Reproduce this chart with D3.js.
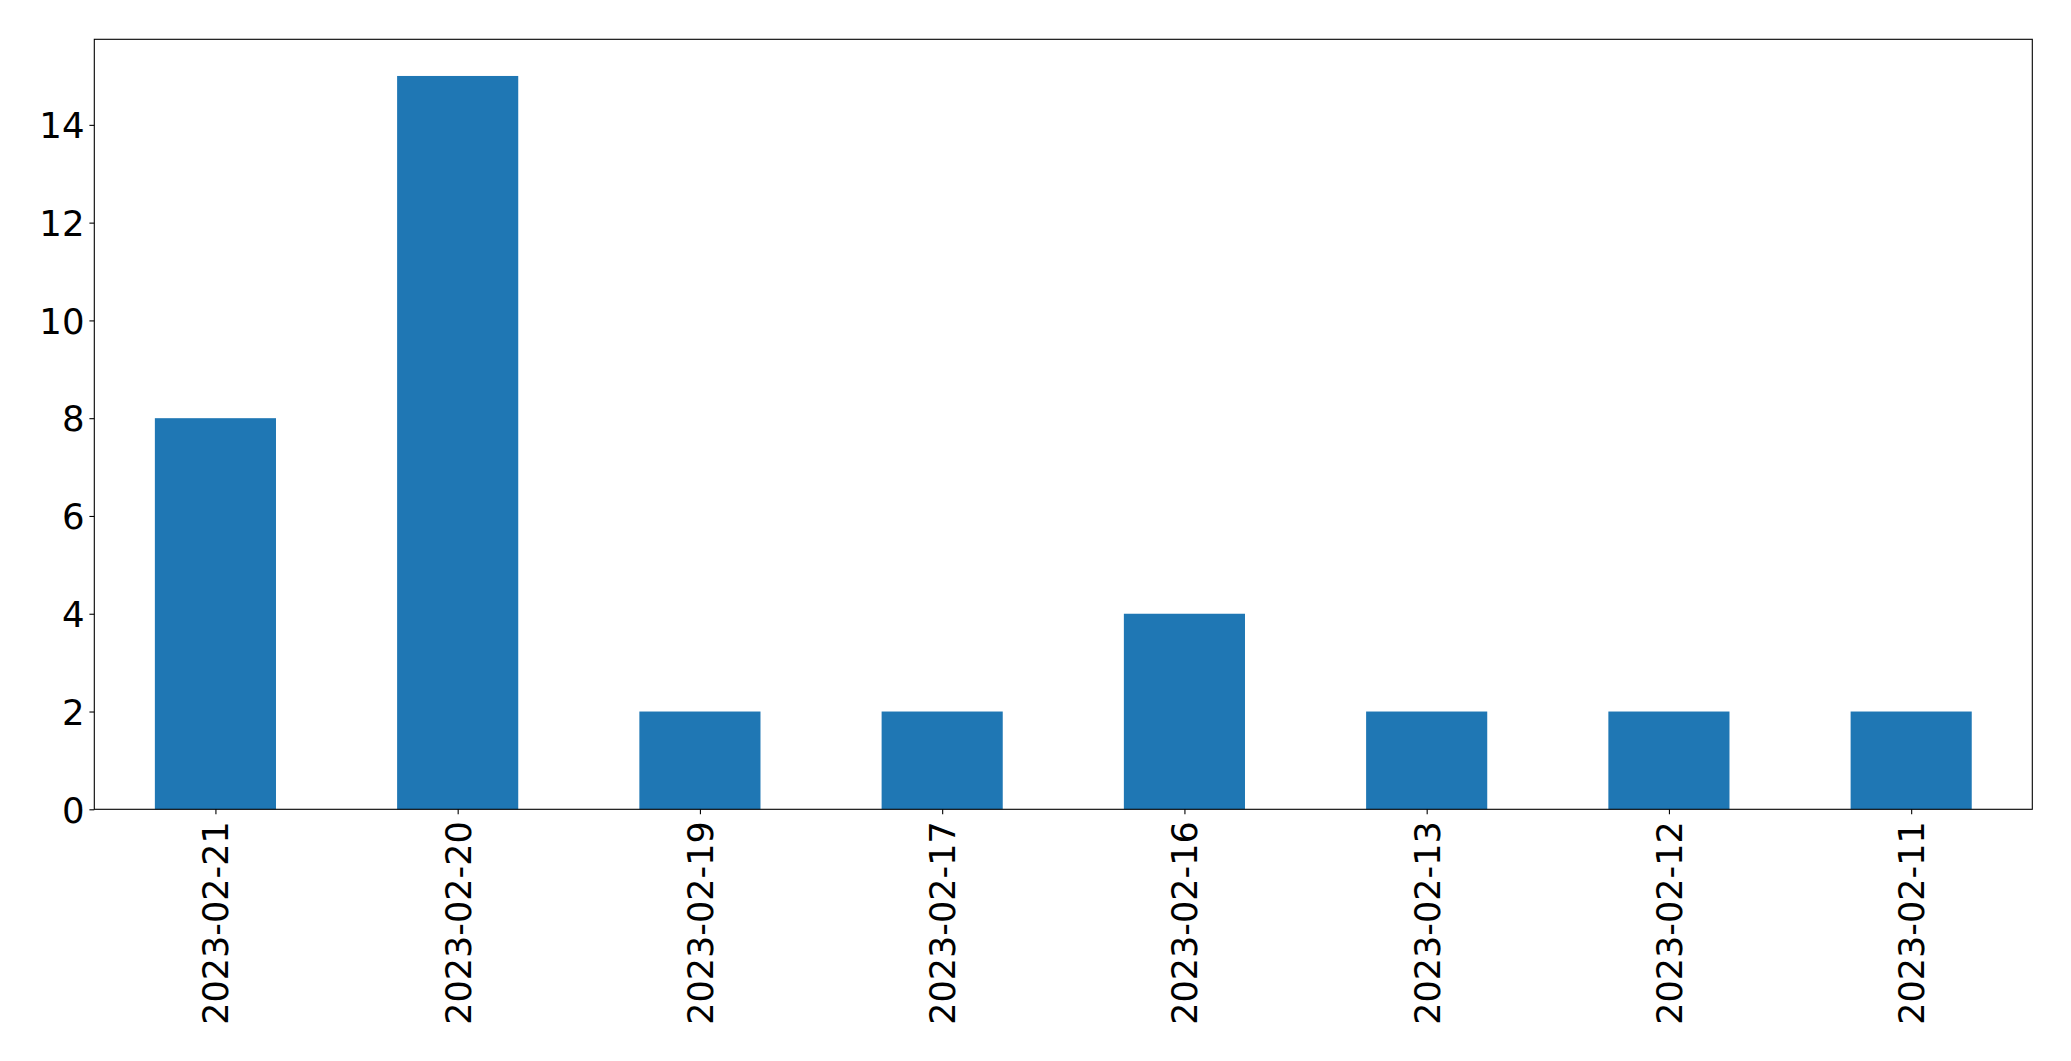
<!DOCTYPE html>
<html><head><meta charset="utf-8">
<script src="https://cdn.jsdelivr.net/npm/d3@7"></script>
<style>html,body{margin:0;padding:0;background:#fff;}svg{display:block;}</style>
</head><body>
<script>
const categories = ["2023-02-21","2023-02-20","2023-02-19","2023-02-17","2023-02-16","2023-02-13","2023-02-12","2023-02-11"];
const values = [8,15,2,2,4,2,2,2];
const yTicks = [0,2,4,6,8,10,12,14];

const W = 2071, H = 1061;
const m = {left:94.3, top:39.3, right:2032.3, bottom:809.3};
const svg = d3.select("body").append("svg").attr("width",W).attr("height",H);

const x = d3.scaleLinear().domain([-0.5, categories.length-0.5]).range([m.left, m.right]);
const y = d3.scaleLinear().domain([0, 15.75]).range([m.bottom, m.top]);
const bw = x(0.5)-x(0);

svg.append("g").selectAll("rect").data(values).join("rect")
  .attr("x",(d,i)=>x(i)-bw/2).attr("width",bw)
  .attr("y",d=>y(d)).attr("height",d=>y(0)-y(d))
  .attr("fill","#1f77b4");

const font = "'DejaVu Sans', sans-serif";
const yAxis = d3.axisLeft(y).tickValues(yTicks).tickSize(4.9).tickPadding(4.9).tickFormat(d3.format("d"));
const gy = svg.append("g").attr("transform",`translate(${m.left},0)`).call(yAxis);
gy.select(".domain").remove();
gy.selectAll("line").attr("stroke","#000").attr("stroke-width",1.1);
gy.selectAll("text").attr("font-family",font).attr("font-size",35.5).attr("fill","#000").attr("dy","0.36em");

const xb = d3.scaleOrdinal().domain(categories).range(categories.map((c,i)=>x(i)));
const xAxis = d3.axisBottom(xb).tickSize(4.9).tickPadding(0);
const gx = svg.append("g").attr("transform",`translate(0,${m.bottom})`).call(xAxis);
gx.select(".domain").remove();
gx.selectAll("line").attr("stroke","#000").attr("stroke-width",1.1);
gx.selectAll("text").attr("font-family",font).attr("font-size",35).attr("fill","#000")
  .attr("text-anchor","end").attr("dy",null).attr("y",0)
  .attr("transform","translate(12.5,12) rotate(-90)");

svg.append("rect").attr("x",m.left).attr("y",m.top).attr("width",m.right-m.left).attr("height",m.bottom-m.top)
  .attr("fill","none").attr("stroke","#000").attr("stroke-width",1.1);
</script>
</body></html>
